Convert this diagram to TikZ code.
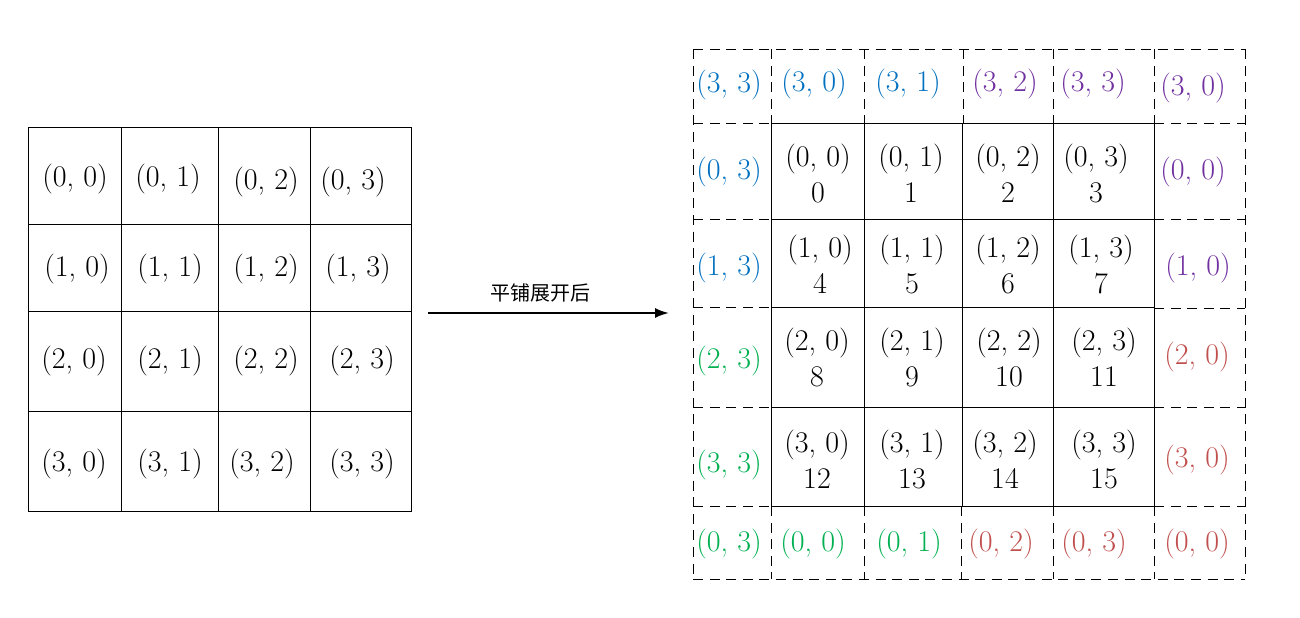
\documentclass[tikz,border=0pt]{standalone}
\usepackage{fontspec}
\newfontfamily\cjk{Noto Sans CJK SC}
\usetikzlibrary{arrows.meta}
\definecolor{cblue}{HTML}{0070C0}
\definecolor{cpurple}{HTML}{7030A0}
\definecolor{cgreen}{HTML}{00B050}
\definecolor{cred}{HTML}{C0504D}
\begin{document}
\begin{tikzpicture}[x=0.5pt,y=-0.5pt,
  every node/.style={inner sep=0pt, align=center, font=\fontsize{15}{18}\selectfont},
  gridline/.style={line width=0.5pt},
  dgridline/.style={line width=0.5pt, dash pattern=on 5pt off 3.3pt},
  bl/.style={text=cblue}, pu/.style={text=cpurple}, gr/.style={text=cgreen}, rd/.style={text=cred}]
\useasboundingbox (0,0) rectangle (1300,617);
% left grid
\draw[gridline] (28,127) rectangle (411,511);
\foreach \x in {121,218,310} \draw[gridline] (\x,127) -- (\x,511);
\foreach \y in {224,311,411} \draw[gridline] (28,\y) -- (411,\y);
\node (l00) at (75,179) {(0, 0)};
\node (l01) at (168,179) {(0, 1)};
\node (l02) at (266,182) {(0, 2)};
\node (l03) at (353,182) {(0, 3)};
\node (l10) at (77,269) {(1, 0)};
\node (l11) at (170,269) {(1, 1)};
\node (l12) at (266,269) {(1, 2)};
\node (l13) at (358,269) {(1, 3)};
\node (l20) at (74,361) {(2, 0)};
\node (l21) at (170,361) {(2, 1)};
\node (l22) at (266,361) {(2, 2)};
\node (l23) at (362,361) {(2, 3)};
\node (l30) at (74,464) {(3, 0)};
\node (l31) at (170,464) {(3, 1)};
\node (l32) at (262,464) {(3, 2)};
\node (l33) at (362,464) {(3, 3)};
% arrow
\coordinate (as) at (428,313);
\coordinate (ae) at (669,313);
\draw[line width=1pt, -{Latex[length=7pt,width=5pt]}] (as) -- (ae);
\node[font=\cjk\fontsize{10}{12}\selectfont] (albl) at (540,293) {平铺展开后};
% right solid grid
\draw[gridline] (771,123) rectangle (1154,506);
\draw[gridline] (864,123) -- (864,506);
\draw[gridline] (962,123) -- (962,506);
\draw[gridline] (1053,123) -- (1053,506);
\foreach \y in {219,307,407} \draw[gridline] (771,\y) -- (1154,\y);
% dashed border
\draw[dgridline] (693,49) -- (1245,49);
\draw[dgridline] (693,579) -- (1245,579);
\draw[dgridline] (693,49) -- (693,579);
\draw[dgridline] (1245,49) -- (1245,579);
\foreach \x in {771,864,963,1053,1154} \draw[dgridline] (\x,49) -- (\x,123);
\foreach \x in {771,864,961,1053,1154} \draw[dgridline] (\x,506) -- (\x,579);
\foreach \y in {123,219,307,407,506} \draw[dgridline] (693,\y) -- (771,\y);
\foreach \y in {123,219,308,407,506} \draw[dgridline] (1154,\y) -- (1245,\y);
% inner cells
\node (r0) at (818,173) {(0, 0)\\0};
\node (r1) at (911,173) {(0, 1)\\1};
\node (r2) at (1008,173) {(0, 2)\\2};
\node (r3) at (1096,173) {(0, 3)\\3};
\node (r4) at (820,264) {(1, 0)\\4};
\node (r5) at (912,264) {(1, 1)\\5};
\node (r6) at (1008,264) {(1, 2)\\6};
\node (r7) at (1101,264) {(1, 3)\\7};
\node (r8) at (817,357) {(2, 0)\\8};
\node (r9) at (912,357) {(2, 1)\\9};
\node (r10) at (1009,357) {(2, 2)\\10};
\node (r11) at (1104,357) {(2, 3)\\11};
\node (r12) at (817,459) {(3, 0)\\12};
\node (r13) at (912,459) {(3, 1)\\13};
\node (r14) at (1005,459) {(3, 2)\\14};
\node (r15) at (1104,459) {(3, 3)\\15};
% halo labels
\node[bl] (t0) at (729,85) {(3, 3)};
\node[bl] (t1) at (814,84) {(3, 0)};
\node[bl] (t2) at (908,84) {(3, 1)};
\node[pu] (t3) at (1005,84) {(3, 2)};
\node[pu] (t4) at (1093,84) {(3, 3)};
\node[pu] (t5) at (1193,88) {(3, 0)};
\node[bl] (w0) at (729,172) {(0, 3)};
\node[bl] (w1) at (729,268) {(1, 3)};
\node[gr] (w2) at (729,361) {(2, 3)};
\node[gr] (w3) at (729,465) {(3, 3)};
\node[pu] (e0) at (1193,172) {(0, 0)};
\node[pu] (e1) at (1198,268) {(1, 0)};
\node[rd] (e2) at (1197,357) {(2, 0)};
\node[rd] (e3) at (1197,460) {(3, 0)};
\node[gr] (b0) at (729,544) {(0, 3)};
\node[gr] (b1) at (813,544) {(0, 0)};
\node[gr] (b2) at (909,544) {(0, 1)};
\node[rd] (b3) at (1001,544) {(0, 2)};
\node[rd] (b4) at (1094,544) {(0, 3)};
\node[rd] (b5) at (1197,544) {(0, 0)};
\end{tikzpicture}
\end{document}
